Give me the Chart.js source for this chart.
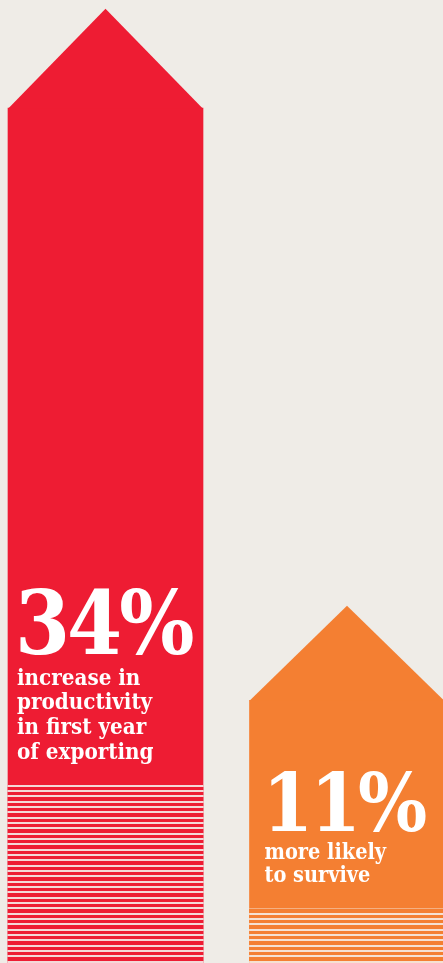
<!DOCTYPE html>
<html lang="en">
<head>
  <meta charset="UTF-8" />
  <title>Exporting arrows</title>
  <script src="https://cdn.jsdelivr.net/npm/chart.js"></script>
  <style>
    html, body { margin: 0; padding: 0; background: #efece7; overflow: hidden; }
    .wrap { position: relative; width: 443px; height: 963px; }
  </style>
</head>
<body>
  <div class="wrap"><canvas id="arrows"></canvas></div>

  <script>
    // data
    const categories = ['Productivity', 'Survival'];
    const values = [34, 11];                 // arrow body heights (%)
    const stripeBand = [7.7, 2.9];           // striped foot of each arrow
    const headlines = ['34%', '11%'];
    const captions = [
      ['increase in', 'productivity', 'in first year', 'of exporting'],
      ['more likely', 'to survive']
    ];

    const colors = ['#ee1c33', '#f47f32'];
    const gapColors = ['#f4d8d8', '#f5e1d2'];
    const headSize = [88, 81];
    const bodySize = [22.2, 21.5];
    const lineStep = [24.7, 23.3];
    const textInset = [9, 15];

    // 16px tile: three stripes (3,3,4 px) with 2px gaps, first stripe on row 3
    function stripes(color, gap) {
      const rows = 'RRRGGRRRGGRRRRGG';
      const c = document.createElement('canvas');
      c.width = 4; c.height = 16;
      const g = c.getContext('2d');
      for (let r = 0; r < 16; r++) {
        g.fillStyle = rows[(r - 3 + 16) % 16] === 'R' ? color : gap;
        g.fillRect(0, r, 4, 1);
      }
      return g.createPattern(c, 'repeat');
    }

    // arrow heads and the white text on each bar
    const arrowText = {
      id: 'arrowText',
      afterDatasetsDraw(chart) {
        const ctx = chart.ctx;
        const body = chart.getDatasetMeta(1).data;
        const feet = chart.getDatasetMeta(0).data;
        body.forEach((bar, i) => {
          const { x, y, width } = bar.getProps(['x', 'y', 'width'], true);
          const half = width / 2;
          ctx.save();
          ctx.fillStyle = colors[i];
          ctx.beginPath();
          ctx.moveTo(x - half, y + 0.5);
          ctx.lineTo(x, y - half * (i ? 0.97 : 1.02));
          ctx.lineTo(x + half, y + 0.5);
          ctx.closePath();
          ctx.fill();

          const left = x - half + textInset[i];
          const bandTop = feet[i].getProps(['y'], true).y;
          const lines = captions[i];
          const step = lineStep[i];
          const first = bandTop - 26.5 - (lines.length - 1) * step;
          ctx.fillStyle = '#ffffff';
          ctx.textBaseline = 'alphabetic';
          ctx.textAlign = 'left';
          ctx.font = 'bold ' + headSize[i] + 'px "DejaVu Serif Condensed", "DejaVu Serif", serif';
          ctx.letterSpacing = '-3px';
          ctx.fillText(headlines[i], left - 2, first - (i ? 28 : 31));
          ctx.letterSpacing = '0px';
          ctx.font = 'bold ' + bodySize[i] + 'px "DejaVu Serif Condensed", "DejaVu Serif", serif';
          lines.forEach((t, k) => ctx.fillText(t, left, first + k * step));
          ctx.restore();
        });
      }
    };

    new Chart(document.getElementById('arrows'), {
      type: 'bar',
      data: {
        labels: categories,
        datasets: [
          { label: 'base', data: stripeBand, backgroundColor: colors.map((c, i) => stripes(c, gapColors[i])) },
          { label: 'value', data: values, backgroundColor: colors }
        ]
      },
      options: {
        responsive: true,
        maintainAspectRatio: false,
        animation: false,
        layout: { padding: { left: 105.5, right: 96, top: 0, bottom: 0 } },
        datasets: { bar: { grouped: false, barThickness: 195, borderWidth: 0, clip: false } },
        plugins: { legend: { display: false }, tooltip: { enabled: false } },
        scales: {
          x: { type: 'category', offset: false, display: false },
          y: { min: 0.8, max: 38.2, display: false }
        }
      },
      plugins: [arrowText]
    });
  </script>
</body>
</html>
